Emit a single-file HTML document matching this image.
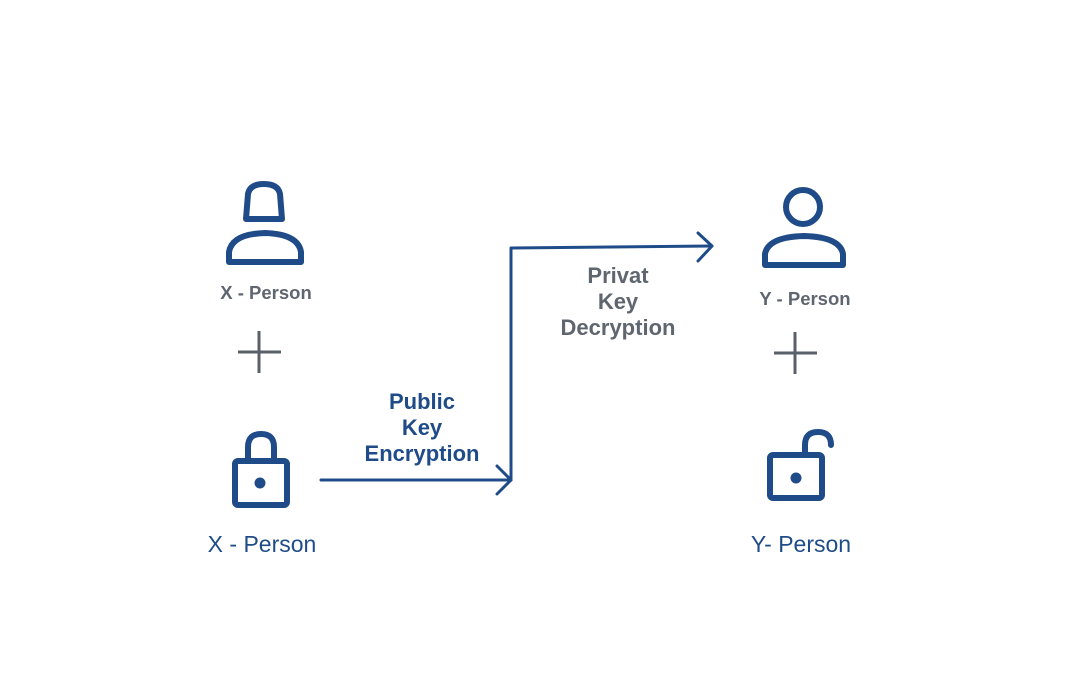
<!DOCTYPE html>
<html><head><style>
body{margin:0;background:#fff;}
svg{display:block;}
text{font-family:"Liberation Sans",sans-serif;font-weight:bold;}
</style></head><body>
<svg width="1080" height="675" viewBox="0 0 1080 675" xmlns="http://www.w3.org/2000/svg">
<g fill="none" stroke="#1f4c88" stroke-width="6" stroke-linejoin="round" stroke-linecap="round">
  <path d="M246 219 L248 194 Q250 184 264 184 Q278 184 280 194 L282 219 Z"/>
  <path d="M229 262 L229 252 Q232 234 265 233 Q298 234 301 252 L301 262 Z"/>
  <rect x="235" y="461" width="52" height="44" rx="3"/>
  <path d="M248 460 L248 447 Q248 434 261 434 Q274 434 274 447 L274 460"/>
  <circle cx="803" cy="207" r="17"/>
  <path d="M765 265 L765 254 Q768 237 804 236 Q840 237 843 254 L843 265 Z"/>
  <rect x="770" y="455" width="52" height="43" rx="3"/>
  <path d="M805 454 L805 445 Q805 432 818 432 Q831 432 831 445"/>
</g>
<circle cx="260" cy="483" r="5.5" fill="#1f4c88"/>
<circle cx="796" cy="478" r="5.5" fill="#1f4c88"/>
<g fill="none" stroke="#1f4c88" stroke-width="3" stroke-linecap="round" stroke-linejoin="round">
  <path d="M321 480 L511 480"/>
  <path d="M497 466 L511 480 L497 494"/>
  <path d="M511 480 L511 248 L712 246"/>
  <path d="M698 233 L712 246 L698 261"/>
</g>
<g stroke="#5a6069" stroke-width="3">
  <path d="M238 352 H281 M259 331 V373"/>
  <path d="M774 353 H817 M795 332 V374"/>
</g>
<g fill="#5f6670" font-size="18.5" text-anchor="middle">
  <text x="266" y="299">X - Person</text>
  <text x="805" y="305">Y - Person</text>
</g>
<g fill="#5f6670" font-size="22" text-anchor="middle">
  <text x="618" y="283">Privat</text>
  <text x="618" y="309">Key</text>
  <text x="618" y="335">Decryption</text>
</g>
<g fill="#1f4c88" font-size="22" text-anchor="middle">
  <text x="422" y="409">Public</text>
  <text x="422" y="435">Key</text>
  <text x="422" y="461">Encryption</text>
</g>
<g fill="#1f4c88" font-size="23" text-anchor="middle">
  <text x="262" y="552" style="font-weight:normal">X - Person</text>
  <text x="801" y="552" style="font-weight:normal">Y- Person</text>
</g>
</svg>
</body></html>
